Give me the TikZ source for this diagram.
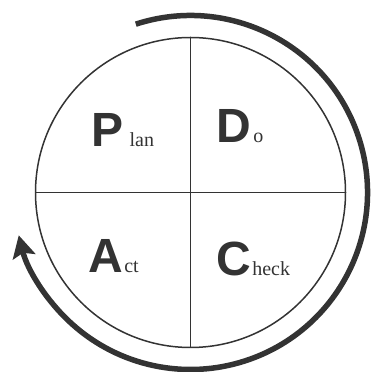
\documentclass[tikz,border=0pt]{standalone}
\usepackage{fontspec}
\setmainfont{Liberation Serif}
\newfontfamily\pdcasans{Liberation Sans}
\usepackage{tikz}
\usetikzlibrary{arrows.meta, positioning}
\definecolor{pdcagrey}{HTML}{333333}

\begin{document}
\begin{tikzpicture}[x=1pt, y=1pt, pdcagrey,
  big/.style={inner sep=0pt, text=pdcagrey, font=\pdcasans\bfseries\fontsize{48}{48}\selectfont},
  sm/.style={inner sep=0pt, text=pdcagrey, font=\fontsize{20}{20}\selectfont},
  cyc/.style={circle, draw=pdcagrey, line width=1.5pt, minimum size=310pt, inner sep=0pt},
  loop/.style={line width=5.5pt, draw=pdcagrey, -{Stealth[length=22pt, width=23pt, inset=4pt]}}]
\useasboundingbox (0,0) rectangle (371,372);
\node[cyc] (wheel) at (190.5,179.5) {};
\draw[line width=1.5pt] (wheel.north) -- (wheel.south);
\draw[line width=1.5pt] (wheel.west) -- (wheel.east);
% outer cycle arrow
\draw[loop] (wheel.center) ++(108:177) arc[start angle=108, end angle=-166, radius=177];
% quadrant labels
\node[big, anchor=base west] (p) at (91,225) {P};
\node[sm, base right=6pt of p] (plan) {lan};
\node[big, anchor=base west] (d) at (216,229) {D};
\node[sm, base right=2pt of d] (do) {o};
\node[big, anchor=base west] (a) at (88,99) {A};
\node[sm, base right=1pt of a] (act) {ct};
\node[big, anchor=base west] (c) at (216,96) {C};
\node[sm, base right=1pt of c] (check) {heck};
\end{tikzpicture}
\end{document}
